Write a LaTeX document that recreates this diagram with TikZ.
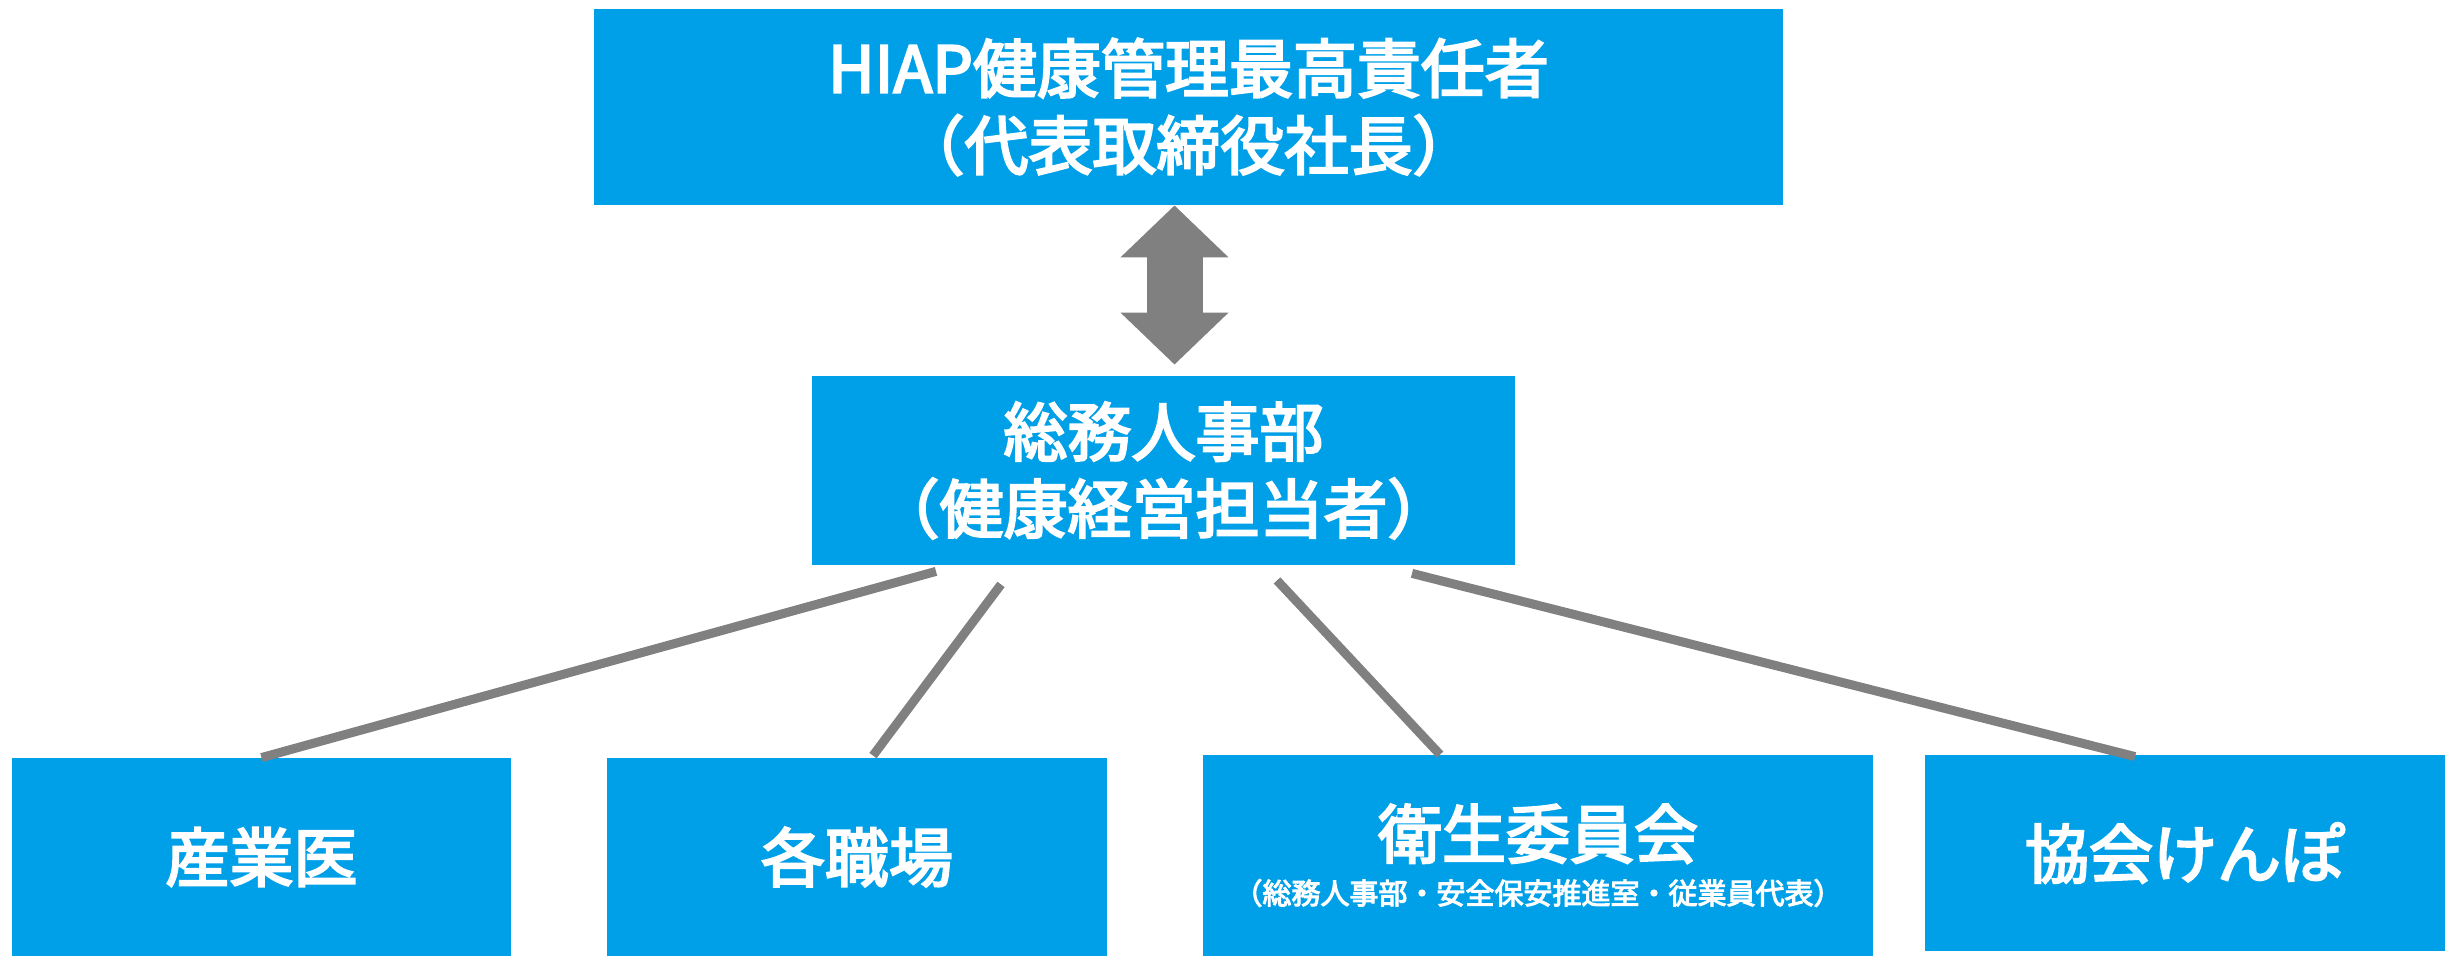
\documentclass[tikz,border=0pt]{standalone}
\usepackage{fontspec}
\newfontfamily\jpfont{Noto Sans CJK JP}[FakeBold=3.5]
\usetikzlibrary{arrows.meta}
\definecolor{hiapblue}{RGB}{0,160,233}
\definecolor{linkgray}{RGB}{128,128,128}
\begin{document}
\begin{tikzpicture}[x=0.5pt,y=-0.5pt,
  orgbox/.style={fill=hiapblue, text=white, inner sep=0pt, align=center,
    font=\jpfont\fontsize{32}{38.5}\selectfont},
  link/.style={draw=linkgray, line width=4.5pt},
  bothway/.style={draw=linkgray, line width=28pt,
    {Triangle[length=26pt,width=52.5pt]}-{Triangle[length=26pt,width=52.5pt]}}]
\useasboundingbox (0,0) rectangle (2445,956);
%%% top: the officer and the department
\node[orgbox, minimum width=594.5pt, minimum height=98pt] (hiap) at (1188.5,107)
  {HIAP健康管理最高責任者\\（代表取締役社長）};
\node[orgbox, minimum width=351.5pt, minimum height=94.5pt] (soumu) at (1163.5,470.5)
  {総務人事部\\（健康経営担当者）};
\draw[bothway, shorten >=5.5pt] ([xshift=-7pt]hiap.south) -- ([xshift=5.5pt]soumu.north);
%%% bottom row
\node[orgbox, minimum width=249.5pt, minimum height=99pt] (sangyoui) at (261.5,857) {産業医};
\node[orgbox, minimum width=250pt, minimum height=99pt] (shokuba) at (857,857) {各職場};
\node[orgbox, minimum width=335pt, minimum height=100.5pt, font=\jpfont\fontsize{14.5}{23}\selectfont]
  (eisei) at (1538,855.5)
  {{\fontsize{32}{38.5}\selectfont 衛生委員会}\\（総務人事部・安全保安推進室・従業員代表）};
\node[orgbox, minimum width=260pt, minimum height=98pt] (kenpo) at (2185,853) {協会けんぽ};
%%% links from the department
\draw[link] ([xshift=-113.75pt,yshift=-3pt]soumu.south) -- (sangyoui.north);
\draw[link] ([xshift=-81.25pt,yshift=-9.5pt]soumu.south) -- ([xshift=8pt,yshift=1pt]shokuba.north);
\draw[link] ([xshift=56.75pt,yshift=-7.5pt]soumu.south) -- ([xshift=-49pt]eisei.north);
\draw[link] ([xshift=124.25pt,yshift=-4pt]soumu.south) -- ([xshift=-25pt,yshift=-1pt]kenpo.north);
\end{tikzpicture}
\end{document}
